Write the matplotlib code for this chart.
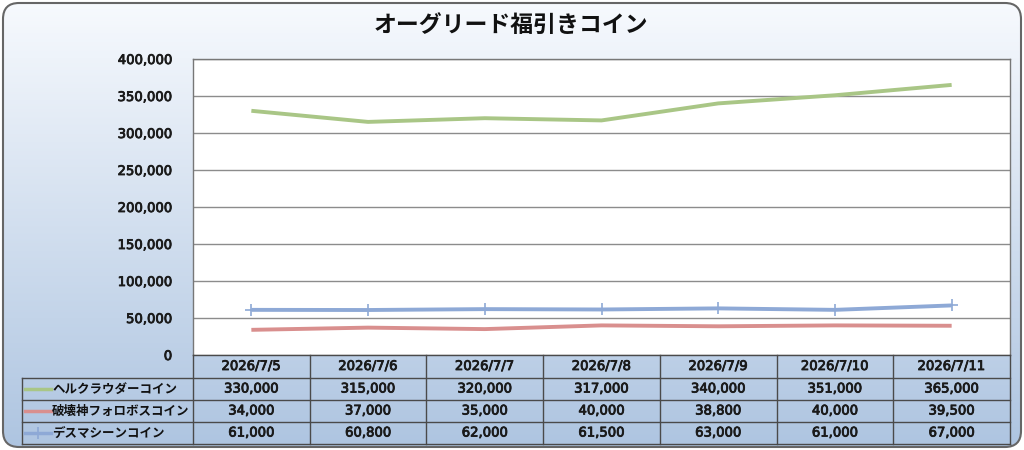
import matplotlib
matplotlib.use("Agg")
import matplotlib.pyplot as plt
import matplotlib.patheffects as pe
import numpy as np
from matplotlib.patches import FancyBboxPatch

# wide latin digits from DejaVu, Japanese falls back to Noto CJK
plt.rcParams['font.family'] = ['DejaVu Sans', 'Noto Sans CJK JP']

title = 'オーグリード福引きコイン'
dates = ['2026/7/5', '2026/7/6', '2026/7/7', '2026/7/8', '2026/7/9', '2026/7/10', '2026/7/11']
names = ['ヘルクラウダーコイン', '破壊神フォロボスコイン', 'デスマシーンコイン']
hell = [330000, 315000, 320000, 317000, 340000, 351000, 365000]
foro = [34000, 37000, 35000, 40000, 38800, 40000, 39500]
desu = [61000, 60800, 62000, 61500, 63000, 61000, 67000]
series = [hell, foro, desu]
colors = ['#a9c686', '#d98f8e', '#8ea9d6']
markers = [None, None, '+']

W, H = 1024, 450
fig = plt.figure(figsize=(W / 100, H / 100), dpi=100)
thick = [pe.withStroke(linewidth=0.6, foreground='#1a1a1a')]

# background with gradient and rounded frame
bg = fig.add_axes([0, 0, 1, 1])
bg.set_xlim(0, W)
bg.set_ylim(H, 0)
bg.axis('off')
grad = np.linspace(0, 1, 256)[:, None]
top = np.array([0.97, 0.98, 0.995])
bot = np.array([0.68, 0.77, 0.88])
img = top + (bot - top) * grad[..., None]
frame = FancyBboxPatch((3, 3), W - 6, H - 6, boxstyle='round,pad=0,rounding_size=16',
                       facecolor='none', edgecolor='#666666', linewidth=1.5, zorder=3)
bg.add_patch(frame)
im = bg.imshow(np.repeat(img, 2, axis=1), extent=[0, W, H, 0], aspect='auto', zorder=0)
im.set_clip_path(frame)
bg.text(511, 25, title, ha='center', va='center', fontsize=16.5, fontweight='bold',
        color='#111111', family='Noto Sans CJK JP')

# plot area
x0, x1, y0, y1 = 193, 1010, 59, 355
ax = fig.add_axes([x0 / W, 1 - y1 / H, (x1 - x0) / W, (y1 - y0) / H])
ax.set_facecolor('white')
xs = np.arange(len(dates))
for vals, c, m in zip(series, colors, markers):
    ax.plot(xs, vals, color=c, linewidth=2.8, marker=m, markersize=9,
            markeredgewidth=1.2, solid_capstyle='butt', zorder=3)
ax.set_xlim(-0.5, len(dates) - 0.5)
ax.set_ylim(0, 400000)
ax.set_yticks(np.arange(0, 400001, 50000))
ax.set_yticklabels([f'{v:,}' for v in range(0, 400001, 50000)], fontsize=9.5,
                   color='#1a1a1a')
for t in ax.get_yticklabels():
    t.set_path_effects(thick)
ax.tick_params(axis='y', length=0, pad=15)
ax.set_xticks([])
ax.grid(axis='y', color='#8c8c8c', linewidth=1)
ax.set_axisbelow(True)
for s in ax.spines.values():
    s.set_color('#777777')
    s.set_linewidth(1)
ax.spines['bottom'].set_visible(False)

# data table
tb = fig.add_axes([0, 0, 1, 1])
tb.set_xlim(0, W)
tb.set_ylim(H, 0)
tb.axis('off')
lc = '#4a4a4a'
rows = [355, 378, 400, 422, 444]
lx = 22
cw = (x1 - x0) / len(dates)
tb.plot([x0, x1], [rows[0], rows[0]], color=lc, lw=1)
for r in rows[1:]:
    tb.plot([lx, x1], [r, r], color=lc, lw=1)
tb.plot([lx, lx], [rows[1], rows[-1]], color=lc, lw=1)
for i in range(len(dates) + 1):
    tb.plot([x0 + i * cw] * 2, [rows[0], rows[-1]], color=lc, lw=1)
fs = 9.5
for i, d in enumerate(dates):
    tb.text(x0 + (i + 0.5) * cw, (rows[0] + rows[1]) / 2, d, ha='center', va='center',
            fontsize=fs, color='#1a1a1a', path_effects=thick)
for j, (nm, vals, c, m) in enumerate(zip(names, series, colors, markers)):
    yc = (rows[j + 1] + rows[j + 2]) / 2
    tb.plot([lx + 3, lx + 29], [yc, yc], color=c, lw=2.5)
    if m:
        tb.plot([lx + 16], [yc], color=c, marker='+', markersize=8, markeredgewidth=1.2)
    tb.text(lx + 30, yc, nm, ha='left', va='center', fontsize=9, fontweight='bold',
            color='#111111', family='Noto Sans CJK JP')
    for i, v in enumerate(vals):
        tb.text(x0 + (i + 0.5) * cw, yc, f'{v:,}', ha='center', va='center',
                fontsize=fs, color='#1a1a1a', path_effects=thick)

fig.savefig('out.png', dpi=100)
